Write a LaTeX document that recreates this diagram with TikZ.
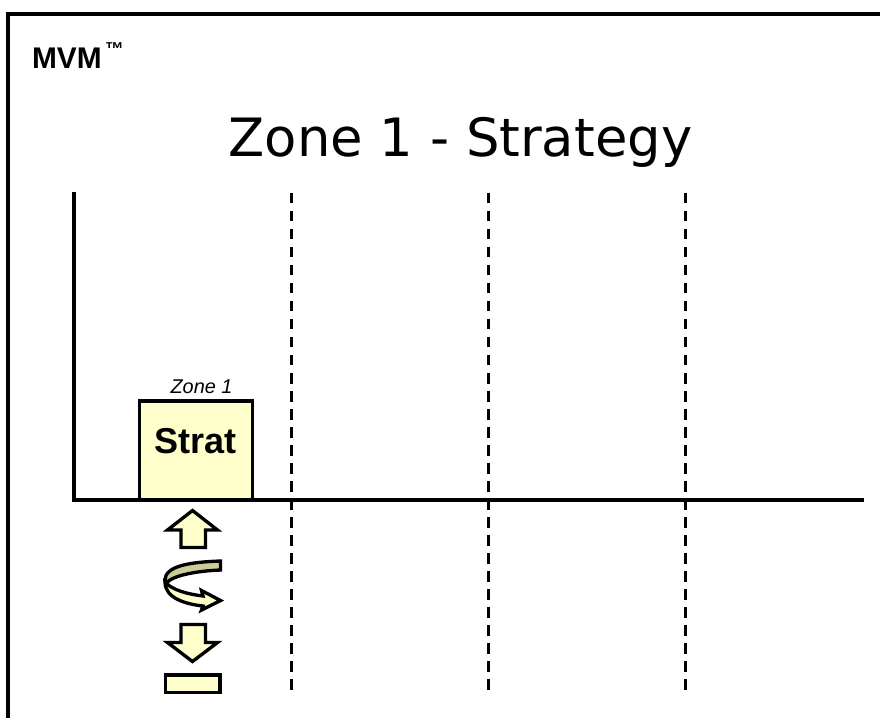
\documentclass[tikz,border=0pt]{standalone}
\usepackage{fontspec}
\setmainfont{Liberation Sans}
\newfontfamily\titlefont{DejaVu Sans}
\definecolor{paleyellow}{HTML}{FFFFCC}
\definecolor{bandolive}{HTML}{CCCC99}
\tikzset{
  px/.style={x=0.75pt,y=-0.75pt},
  frameline/.style={line width=2.5pt,black},
  axisline/.style={line width=2.6pt,black},
  zoneline/.style={line width=2.4pt,black,dash pattern=on 7.9pt off 5.62pt},
  shapeline/.style={draw=black,fill=paleyellow,line width=2.5pt,line join=miter},
  plain/.style={inner sep=0pt,outer sep=0pt}
}
\begin{document}
\begin{tikzpicture}[px]
\useasboundingbox (0,0) rectangle (880,718);
\fill[white] (0,0) rectangle (880,718);
% frame
\coordinate (fbl) at (8,718);
\coordinate (ftl) at (8,14);
\coordinate (ftr) at (880,14);
\draw[frameline] (fbl) -- (ftl) -- (ftr);
% texts
\node[plain,anchor=base west] (brand) at (32,68) {\fontsize{22.4pt}{26pt}\selectfont\bfseries MVM\kern2.5pt\raisebox{9.5pt}{\fontsize{14pt}{14pt}\selectfont ™}};
\node[plain,anchor=base] (title) at (460.5,156) {\titlefont\fontsize{39.6pt}{46pt}\selectfont Zone 1 - Strategy};
% axes
\coordinate (ytop) at (73.8,192);
\coordinate (origin) at (73.8,500);
\coordinate (xend) at (864,500);
% dashed dividers
\foreach \n/\xx in {a/291.7,b/488.7,c/685.7}{
  \coordinate (d\n t) at (\xx,192.7);
  \coordinate (d\n b) at (\xx,690);
  \draw[zoneline] (d\n t) -- (d\n b);
}
% strat box
\node[shapeline,plain,draw,minimum width=84.5pt,minimum height=74.3pt,anchor=north west] (strat) at (139.7,401) {};
\node[plain,anchor=base] (strattext) at (195.5,453) {\fontsize{27pt}{31pt}\selectfont\bfseries Strat};
\node[plain,anchor=base] (zonelabel) at (201.5,393.5) {\fontsize{14.9pt}{17pt}\selectfont\itshape Zone 1};
\draw[axisline] (ytop) -- (origin) -- (xend);
% up arrow
\draw[shapeline] (192.5,510.5) -- (217.5,530) -- (205.5,530) -- (205.5,547.5) -- (181,547.5) -- (181,530) -- (167.5,530) -- cycle;
% curved arrow
\draw[shapeline] (165,582)
  .. controls (165,598) and (185,604) .. (203,606)
  -- (201.5,610) -- (220.5,600.5) -- (201.5,590.5) -- (203,596)
  .. controls (187,594) and (172,590) .. cycle;
\draw[shapeline,fill=bandolive] (220.5,561)
  .. controls (190,562) and (165,566) .. (165,580)
  -- (166,584)
  .. controls (170,576) and (195,571) .. (220.5,570) -- cycle;
% down arrow
\draw[shapeline] (192.5,661.5) -- (217.5,642.5) -- (205.5,642.5) -- (205.5,624.5) -- (181,624.5) -- (181,642.5) -- (167.5,642.5) -- cycle;
% bar
\node[shapeline,plain,draw,minimum width=40.7pt,minimum height=13pt,anchor=north west] (bar) at (165.7,675) {};
\end{tikzpicture}
\end{document}
